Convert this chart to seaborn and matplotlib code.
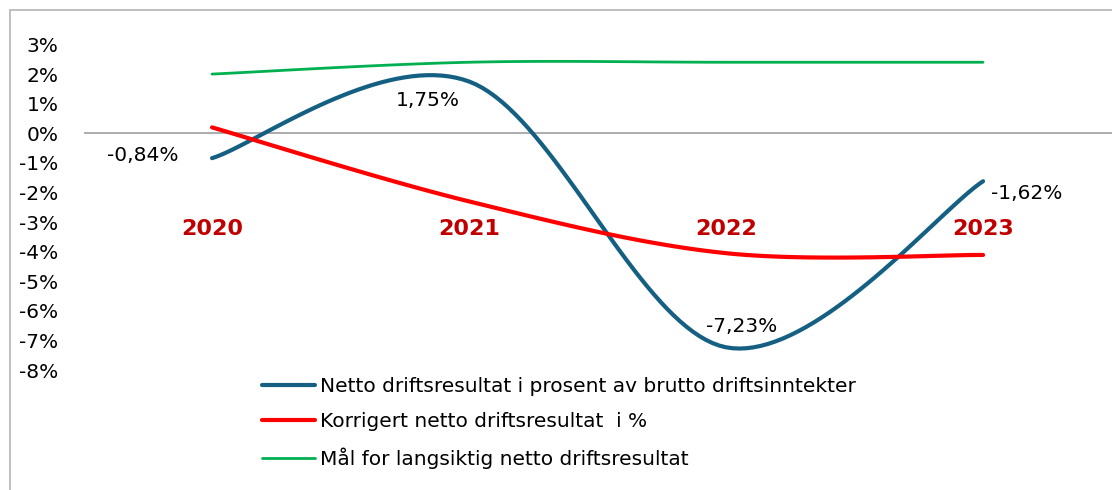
import numpy as np
import pandas as pd
import seaborn as sns
import matplotlib.pyplot as plt
from matplotlib.patches import Rectangle
from matplotlib.ticker import FuncFormatter

# data
years = ["2020", "2021", "2022", "2023"]
netto = [-0.84, 1.75, -7.23, -1.62]
korrigert = [0.2, -2.3, -4.05, -4.11]
maal = [2.0, 2.4, 2.4, 2.4]

names = ["Netto driftsresultat i prosent av brutto driftsinntekter",
         "Korrigert netto driftsresultat  i %",
         "Mål for langsiktig netto driftsresultat"]
colors = ["#156082", "#ff0000", "#00b050"]
widths = [3.0, 3.0, 2.0]


def smooth(vals, n=40):
    # bezier smoothing, roughly what excel does for "smoothed line"
    p = np.column_stack([np.arange(len(vals)), vals]).astype(float)
    pts = np.vstack([p[0], p, p[-1]])
    out = [p[0]]
    t = np.linspace(0, 1, n)[1:, None]
    for i in range(1, len(pts) - 2):
        p0, p1, p2, p3 = pts[i - 1], pts[i], pts[i + 1], pts[i + 2]
        c1 = p1 + (p2 - p0) / 6
        c2 = p2 - (p3 - p1) / 6
        seg = (1 - t)**3 * p1 + 3 * (1 - t)**2 * t * c1 + 3 * (1 - t) * t**2 * c2 + t**3 * p2
        out.extend(seg)
    return np.array(out)


sns.set_style("white")
plt.rcParams['font.family'] = ['DejaVu Sans']
plt.rcParams['text.color'] = 'black'
plt.rcParams['ytick.color'] = 'black'

fig = plt.figure(figsize=(11.12, 4.9), dpi=100)
ax = fig.add_axes([0.0751, 0.2447, 0.9245, 0.6645])

for vals, name, col, lw in zip([netto, korrigert, maal], names, colors, widths):
    s = smooth(vals)
    d = pd.DataFrame({"x": s[:, 0], "y": s[:, 1]})
    sns.lineplot(data=d, x="x", y="y", sort=False, estimator=None, ax=ax,
                 color=col, linewidth=lw, label=name, solid_capstyle="round")

ax.axhline(0, color="#a6a6a6", lw=1.3, zorder=0)

ax.set_xlim(-0.5, 3.5)
ax.set_ylim(-8, 3)
ax.set_yticks(range(-8, 4))
ax.yaxis.set_major_formatter(FuncFormatter(lambda v, _: f"{int(round(v))}%"))
ax.tick_params(axis="y", length=0, pad=18, labelsize=14.5, labelcolor="black")
ax.set_xticks([])
ax.set_xlabel("")
ax.set_ylabel("")
for sp in ax.spines.values():
    sp.set_visible(False)

# year labels
for i, yr in enumerate(years):
    ax.text(i, -3.22, yr, ha="center", va="center", fontsize=16,
            fontweight="bold", color="#c00000")

# data labels for the blue series
offsets = [(-69, 3), (-41, -19), (16, 21), (44, -12)]
for i, (v, off) in enumerate(zip(netto, offsets)):
    ax.annotate(f"{v:.2f}%".replace(".", ","), (i, v), xytext=off,
                textcoords="offset pixels", ha="center", va="center",
                fontsize=14.5, color="black")

leg = ax.legend(loc="center left", bbox_to_anchor=(262 / 1112, 1 - 423 / 490),
                bbox_transform=fig.transFigure, frameon=False, fontsize=14.5,
                handlelength=2.65, handletextpad=0.25, labelspacing=0.82,
                borderpad=0, borderaxespad=0)
for txt in leg.get_texts():
    txt.set_color("black")

# chart border (left and top edges visible)
fig.patches.append(Rectangle((10 / 1112, -0.2), 1.2, 1.2 - 10 / 490,
                             transform=fig.transFigure, fill=False,
                             edgecolor="#b4b4b4", lw=1.2))

fig.savefig("out.png", dpi=100)
